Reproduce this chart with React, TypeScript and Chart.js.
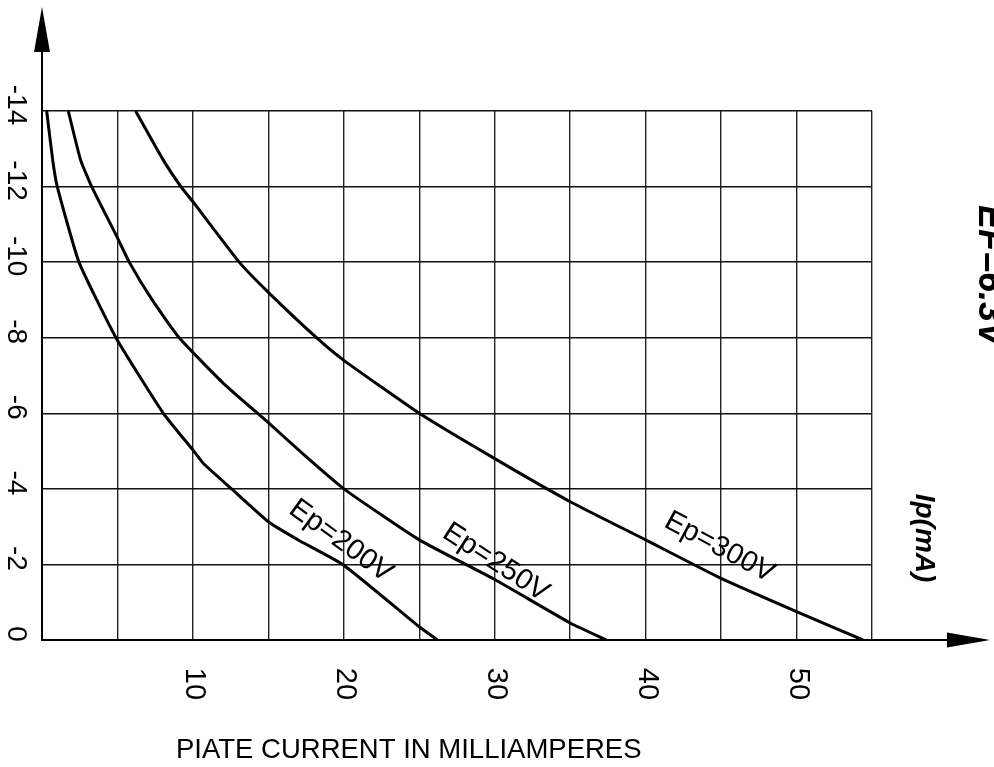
import React, { useEffect, useRef } from 'react';
import { Chart, registerables } from 'chart.js';

Chart.register(...registerables);

// Plate current (mA) vs grid voltage (V) for three plate voltages
const ep200X = [0.31, 0.71, 1.01, 2.45, 4.9, 8.04, 10.0, 10.7, 12.56, 15.0, 17.1, 20.0, 25.0, 26.2];
const ep200Y = [-14, -12.7, -12, -10, -8, -6, -5.03, -4.67, -4, -3.13, -2.62, -1.98, -0.35, 0];

const ep250X = [1.74, 2.56, 3.29, 4.97, 5.78, 7.3, 9.09, 12.0, 15.0, 17.5, 20.0, 25.0, 30.0, 35.0, 37.4];
const ep250Y = [-14, -12.7, -12, -10.67, -10, -9, -8, -6.8, -5.75, -4.85, -4, -2.65, -1.6, -0.45, 0];

const ep300X = [6.2, 8.04, 9.2, 10.0, 13.07, 15.0, 18.19, 20.0, 25.0, 30.0, 35.0, 40.0, 45.0, 50.0, 54.4];
const ep300Y = [-14, -12.7, -12, -11.6, -10, -9.2, -8, -7.4, -6, -4.8, -3.66, -2.65, -1.63, -0.75, 0];

const curveLabels = ['Ep=200V', 'Ep=250V', 'Ep=300V'];
const curveLabelX = [19.8, 30.07, 44.9];
const curveLabelY = [-2.62, -2.05, -2.45];
const curveLabelAngle = [36, 33, 28];

const yTickValues = [0, -2, -4, -6, -8, -10, -12, -14];
const xTickValues = [10, 20, 30, 40, 50];

const xTitle = 'PIATE CURRENT IN MILLIAMPERES';
const yUnitText = 'Ip(mA)';
const heaterText = 'EF=6.3V';

const FONT = '"Liberation Sans", Arial, sans-serif';

function pts(xs: number[], ys: number[]) {
  return xs.map((x, i) => ({ x, y: ys[i] }));
}

const decorPlugin = {
  id: 'decor',
  afterDraw(chart: any) {
    const ctx = chart.ctx as CanvasRenderingContext2D;
    const xs = chart.scales.x;
    const ys = chart.scales.y;
    const area = chart.chartArea;
    ctx.save();
    ctx.fillStyle = '#000';
    ctx.strokeStyle = '#000';

    // Y axis arrow
    ctx.lineWidth = 2;
    ctx.beginPath();
    ctx.moveTo(area.left, area.top);
    ctx.lineTo(area.left, 50);
    ctx.stroke();
    ctx.beginPath();
    ctx.moveTo(area.left, 7);
    ctx.lineTo(area.left - 8, 52);
    ctx.lineTo(area.left + 8, 52);
    ctx.closePath();
    ctx.fill();

    // X axis arrow
    ctx.beginPath();
    ctx.moveTo(area.right, area.bottom);
    ctx.lineTo(950, area.bottom);
    ctx.stroke();
    ctx.beginPath();
    ctx.moveTo(990, area.bottom);
    ctx.lineTo(947, area.bottom - 7.5);
    ctx.lineTo(947, area.bottom + 7.5);
    ctx.closePath();
    ctx.fill();

    // Y tick labels (rotated clockwise)
    ctx.font = `28px ${FONT}`;
    ctx.textAlign = 'center';
    ctx.textBaseline = 'middle';
    yTickValues.forEach((v) => {
      const py = ys.getPixelForValue(v);
      ctx.save();
      ctx.translate(16, py - 6);
      ctx.rotate(Math.PI / 2);
      ctx.fillText(String(v), 0, 0);
      ctx.restore();
    });

    // X tick labels (rotated clockwise)
    ctx.font = `29px ${FONT}`;
    xTickValues.forEach((v) => {
      const px = xs.getPixelForValue(v);
      ctx.save();
      ctx.translate(px + 1, 684);
      ctx.rotate(Math.PI / 2);
      ctx.fillText(String(v), 0, 0);
      ctx.restore();
    });

    // Curve labels
    ctx.font = `29px ${FONT}`;
    curveLabels.forEach((t, i) => {
      const px = xs.getPixelForValue(curveLabelX[i]);
      const py = ys.getPixelForValue(curveLabelY[i]);
      ctx.save();
      ctx.translate(px, py);
      ctx.rotate((curveLabelAngle[i] * Math.PI) / 180);
      ctx.fillText(t, 0, 0);
      ctx.restore();
    });

    // X title
    ctx.font = `27.5px ${FONT}`;
    ctx.textAlign = 'left';
    ctx.textBaseline = 'alphabetic';
    ctx.fillText(xTitle, 176, 758);

    // Right side labels
    ctx.font = `italic bold 28px ${FONT}`;
    ctx.textAlign = 'center';
    ctx.textBaseline = 'middle';
    ctx.save();
    ctx.translate(924, 538);
    ctx.rotate(Math.PI / 2);
    ctx.fillText(yUnitText, 0, 0);
    ctx.restore();

    ctx.font = `italic bold 36px ${FONT}`;
    ctx.textAlign = 'left';
    ctx.textBaseline = 'alphabetic';
    ctx.save();
    ctx.translate(979, 205);
    ctx.rotate(Math.PI / 2);
    ctx.fillText(heaterText, 0, 0);
    ctx.restore();

    ctx.restore();
  },
};

export default function App() {
  const ref = useRef<HTMLCanvasElement>(null);

  useEffect(() => {
    if (!ref.current) return;
    const lineStyle = {
      showLine: true,
      borderColor: '#000',
      backgroundColor: '#000',
      borderWidth: 3,
      pointRadius: 0,
      tension: 0.15,
      fill: false,
    };
    const chart = new Chart(ref.current, {
      type: 'scatter',
      data: {
        datasets: [
          { label: curveLabels[0], data: pts(ep200X, ep200Y), ...lineStyle },
          { label: curveLabels[1], data: pts(ep250X, ep250Y), ...lineStyle },
          { label: curveLabels[2], data: pts(ep300X, ep300Y), ...lineStyle },
        ],
      },
      options: {
        responsive: false,
        animation: false,
        devicePixelRatio: 1,
        layout: { padding: { left: 42, right: 122, top: 111, bottom: 127 } },
        plugins: { legend: { display: false }, tooltip: { enabled: false } },
        scales: {
          x: {
            type: 'linear',
            min: 0,
            max: 55,
            ticks: { stepSize: 5, display: false },
            grid: { color: '#222', lineWidth: 1.4, drawTicks: false },
            border: { color: '#000', width: 2 },
          },
          y: {
            type: 'linear',
            min: -14,
            max: 0,
            reverse: true,
            ticks: { stepSize: 2, display: false },
            grid: { color: '#111', lineWidth: 1.4, drawTicks: false },
            border: { color: '#000', width: 2 },
          },
        },
      },
      plugins: [decorPlugin],
    });
    return () => chart.destroy();
  }, []);

  return (
    <div style={{ position: 'absolute', left: 0, top: 0, width: 994, height: 767, background: '#fff' }}>
      <canvas ref={ref} width={994} height={767} />
    </div>
  );
}
